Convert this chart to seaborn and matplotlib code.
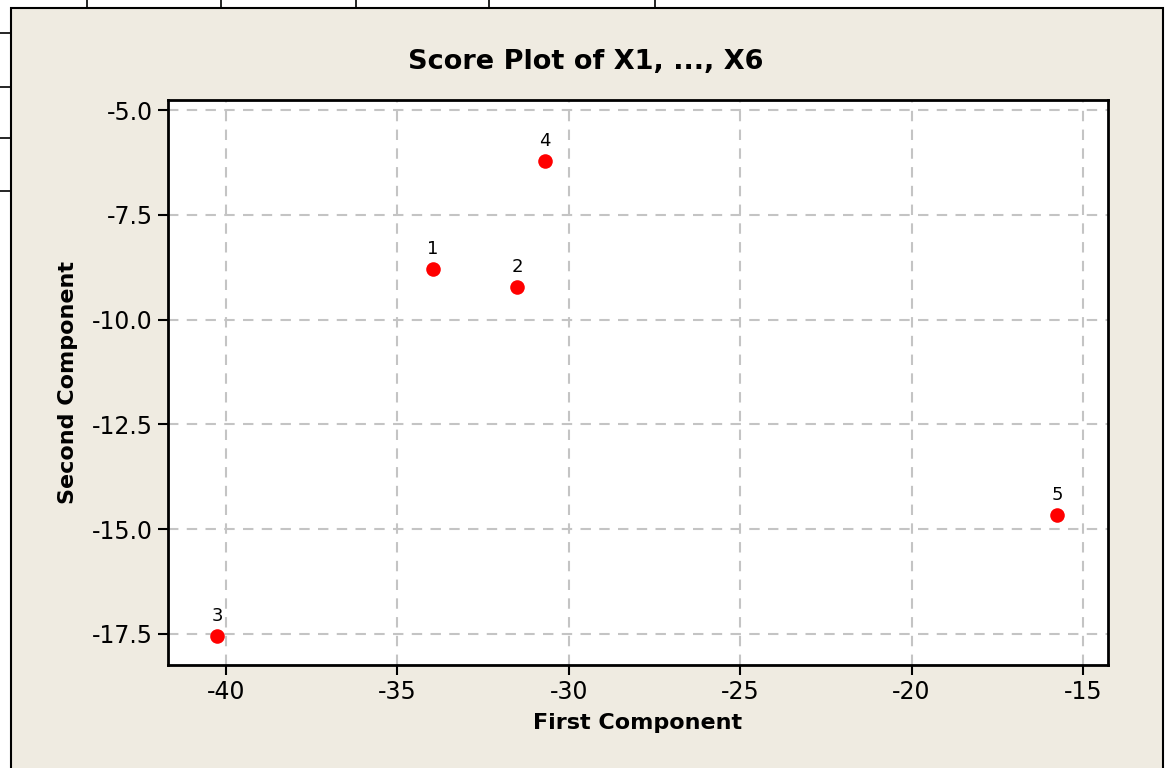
import matplotlib
matplotlib.use("Agg")
import matplotlib.pyplot as plt
import seaborn as sns
import pandas as pd
from matplotlib.patches import Rectangle
from matplotlib.lines import Line2D

labels = ["1", "2", "3", "4", "5"]
first = [-33.96, -31.51, -40.26, -30.69, -15.76]
second = [-8.79, -9.22, -17.55, -6.22, -14.66]
xticks = [-40, -35, -30, -25, -20, -15]
yticks = [-5.0, -7.5, -10.0, -12.5, -15.0, -17.5]

df = pd.DataFrame({"First Component": first, "Second Component": second, "label": labels})

sns.set_style("white")
plt.rcParams["font.family"] = ["DejaVu Sans"]
plt.rcParams["text.color"] = "black"
plt.rcParams["axes.labelcolor"] = "black"

W, H = 1165, 768
fig = plt.figure(figsize=(W / 100, H / 100), dpi=100, facecolor="white")

# beige panel with black border
panel = Rectangle((11 / W, -0.01), (1163 - 11) / W, (H - 8) / H + 0.01, transform=fig.transFigure,
                  facecolor="#EFEBE1", edgecolor="black", linewidth=1.5, zorder=-10)
fig.patches.append(panel)
# fragments of the worksheet behind the window
for px in [87, 221, 356, 489, 655]:
    fig.add_artist(Line2D([px / W, px / W], [1 - 8 / H, 1.0], transform=fig.transFigure,
                          color="black", linewidth=1.2))
for py in [33, 87, 138, 191]:
    fig.add_artist(Line2D([0, 11 / W], [1 - py / H, 1 - py / H], transform=fig.transFigure,
                          color="black", linewidth=1.2))

ax = fig.add_axes([168 / W, 1 - 665 / H, (1108 - 168) / W, (665 - 100) / H])
ax.set_facecolor("white")

sns.scatterplot(data=df, x="First Component", y="Second Component", ax=ax,
                color="#FF0000", s=110, edgecolor="#FF0000", linewidth=0, zorder=3)
for xi, yi, lb in zip(first, second, labels):
    ax.annotate(lb, (xi, yi), xytext=(0, 8), textcoords="offset points",
                ha="center", va="bottom", fontsize=13, color="black")

ax.set_xlim(-41.69, -14.27)
ax.set_ylim(-18.24, -4.76)
ax.set_xticks(xticks)
ax.set_xticklabels([f"{t:d}" for t in xticks])
ax.set_yticks(yticks)
ax.set_yticklabels([f"{t:.1f}" for t in yticks])
ax.grid(True, color="#C4C4C4", linestyle=(0, (5, 4)), linewidth=1.5)
ax.set_axisbelow(True)
for sp in ax.spines.values():
    sp.set_color("black")
    sp.set_linewidth(2)
ax.tick_params(axis="both", which="major", direction="out", length=7, width=1.5,
               labelsize=17, colors="black", left=True, bottom=True, pad=4)

ax.set_xlabel("First Component", fontsize=16, fontweight="bold", labelpad=6, color="black")
ax.set_ylabel("Second Component", fontsize=16, fontweight="bold", labelpad=10, color="black")
fig.text(586 / W, 1 - 62 / H, "Score Plot of X1, ..., X6", ha="center", va="center",
         fontsize=19.5, fontweight="bold", color="black")

fig.savefig("out.png", dpi=100, facecolor=fig.get_facecolor())
